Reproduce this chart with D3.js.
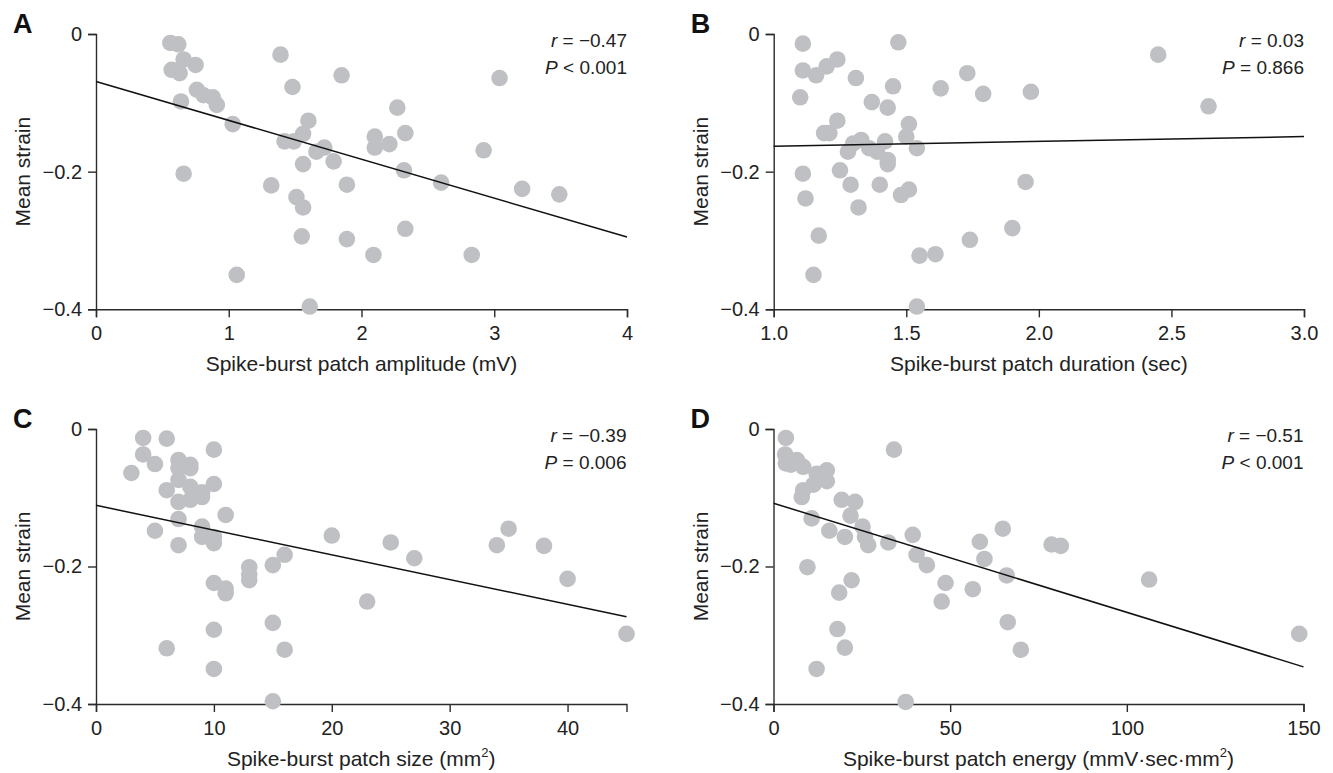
<!DOCTYPE html>
<html>
<head>
<meta charset="utf-8">
<script src="https://cdn.jsdelivr.net/npm/d3@7"></script>
<style>
  body { margin: 0; background: #fff; }
  svg { font-family: "Liberation Sans", Arial, sans-serif; }
</style>
</head>
<body>
<svg id="chart" width="1333" height="773"></svg>
<script>
// points: [x, mean strain]
const ampPoints = [
  [0.56, -0.013], [0.62, -0.015], [0.66, -0.037], [0.75, -0.045], [0.57, -0.052], [0.63, -0.057],
  [1.39, -0.030], [1.85, -0.060], [1.48, -0.077], [0.76, -0.081], [0.81, -0.089], [0.88, -0.092],
  [0.91, -0.103], [0.64, -0.098], [1.03, -0.131], [1.60, -0.126], [1.56, -0.145], [1.42, -0.156],
  [1.49, -0.156], [1.72, -0.165], [1.66, -0.171], [1.79, -0.185], [1.56, -0.189], [0.66, -0.203],
  [1.89, -0.219], [1.32, -0.220], [1.51, -0.237], [1.56, -0.252], [1.55, -0.294], [1.89, -0.298],
  [1.06, -0.350], [1.61, -0.396], [3.04, -0.064], [2.27, -0.107], [2.10, -0.149], [2.33, -0.144],
  [2.10, -0.165], [2.21, -0.160], [2.92, -0.169], [2.32, -0.198], [2.60, -0.216], [3.21, -0.225],
  [3.49, -0.233], [2.33, -0.283], [2.09, -0.321], [2.83, -0.321]
];
const durPoints = [
  [1.11, -0.014], [1.47, -0.012], [1.24, -0.037], [1.20, -0.047], [1.11, -0.053], [1.16, -0.060],
  [1.31, -0.064], [1.73, -0.057], [1.45, -0.076], [1.63, -0.079], [1.79, -0.087], [1.97, -0.084],
  [1.10, -0.092], [1.37, -0.099], [1.43, -0.107], [1.24, -0.126], [1.51, -0.131], [1.19, -0.144],
  [1.21, -0.144], [1.50, -0.149], [1.30, -0.159], [1.33, -0.154], [1.42, -0.156], [1.54, -0.166],
  [1.28, -0.171], [1.36, -0.166], [1.39, -0.171], [1.43, -0.183], [1.43, -0.189], [1.11, -0.203],
  [1.25, -0.198], [1.95, -0.215], [1.29, -0.219], [1.40, -0.219], [1.51, -0.226], [1.48, -0.234],
  [1.12, -0.239], [1.32, -0.252], [1.17, -0.293], [1.74, -0.299], [1.90, -0.282], [1.55, -0.322],
  [1.61, -0.320], [1.15, -0.350], [1.54, -0.396], [2.45, -0.030], [2.64, -0.105]
];
const sizePoints = [
  [4, -0.013], [6, -0.014], [10, -0.030], [4, -0.037], [5, -0.051], [3, -0.064], [7, -0.045],
  [8, -0.052], [7, -0.057], [8, -0.057], [7, -0.074], [10, -0.080], [6, -0.089], [8, -0.084],
  [9, -0.092], [9, -0.099], [8, -0.103], [7, -0.106], [11, -0.125], [7, -0.131], [5, -0.148],
  [9, -0.142], [9, -0.157], [10, -0.157], [10, -0.166], [7, -0.169], [20, -0.155], [16, -0.183],
  [15, -0.198], [13, -0.201], [13, -0.212], [13, -0.220], [10, -0.224], [11, -0.232], [11, -0.239],
  [23, -0.251], [15, -0.282], [10, -0.292], [6, -0.319], [16, -0.321], [10, -0.349], [15, -0.396],
  [25, -0.165], [27, -0.188], [34, -0.169], [35, -0.145], [38, -0.170], [40, -0.218], [45, -0.298]
];
const energyPoints = [
  [3.5, -0.013], [3.3, -0.037], [6.6, -0.045], [3.5, -0.050], [4.9, -0.052], [8.4, -0.055],
  [12.2, -0.065], [15.1, -0.060], [15.1, -0.076], [11.3, -0.081], [8.4, -0.089], [8.0, -0.099],
  [34.1, -0.030], [19.3, -0.103], [23.1, -0.106], [21.8, -0.126], [10.8, -0.130], [25.2, -0.142],
  [15.8, -0.148], [20.2, -0.157], [25.9, -0.157], [26.8, -0.169], [32.5, -0.165], [39.4, -0.154],
  [40.5, -0.183], [43.4, -0.198], [9.6, -0.201], [22.1, -0.220], [18.6, -0.238], [48.7, -0.224],
  [47.6, -0.251], [56.4, -0.233], [58.4, -0.164], [59.7, -0.189], [64.9, -0.145], [66.0, -0.213],
  [66.3, -0.281], [70.0, -0.321], [18.1, -0.291], [20.2, -0.318], [12.2, -0.349], [37.4, -0.397],
  [78.7, -0.168], [81.3, -0.170], [106.3, -0.219], [148.8, -0.298]
];

// regression line end points
const ampFit = [[0, -0.069], [4, -0.295]];
const durFit = [[1, -0.163], [3, -0.149]];
const sizeFit = [[0, -0.111], [45, -0.273]];
const energyFit = [[0, -0.108], [150, -0.346]];

// tick values
const yTicks = [0, -0.2, -0.4];
const ampTicks = [0, 1, 2, 3, 4];
const durTicks = [1.0, 1.5, 2.0, 2.5, 3.0];
const sizeTicks = [0, 10, 20, 30, 40];
const energyTicks = [0, 50, 100, 150];

// stats text
const ampStats = [['r', ' = \u22120.47'], ['P', ' < 0.001']];
const durStats = [['r', ' = 0.03'], ['P', ' = 0.866']];
const sizeStats = [['r', ' = \u22120.39'], ['P', ' = 0.006']];
const energyStats = [['r', ' = \u22120.51'], ['P', ' < 0.001']];

const svg = d3.select('#chart');

function drawPanel(cfg) {
  const g = svg.append('g');
  const x = d3.scaleLinear().domain(cfg.xDomain).range([cfg.left, cfg.right]);
  const y = d3.scaleLinear().domain([-0.4, 0]).range([cfg.bottom, cfg.top]);

  // axes
  const xAxis = d3.axisBottom(x)
    .tickValues(cfg.xTicks)
    .tickFormat(cfg.xFormat)
    .tickSize(8)
    .tickSizeOuter(8)
    .tickPadding(9);
  const yAxis = d3.axisLeft(y)
    .tickValues(yTicks)
    .tickFormat((d) => (d === 0 ? '0' : d3.format('.1f')(d)))
    .tickSize(8)
    .tickSizeOuter(8)
    .tickPadding(6);

  const xg = g.append('g').attr('transform', `translate(0,${cfg.bottom})`).call(xAxis);
  const yg = g.append('g').attr('transform', `translate(${cfg.left},0)`).call(yAxis);
  [xg, yg].forEach((a) => {
    a.selectAll('path, line').attr('stroke', '#2b2b2b').attr('stroke-width', 1.4);
    a.selectAll('text').attr('fill', '#222').style('font-size', '20px')
      .style('font-family', '"Liberation Sans", Arial, sans-serif');
  });

  // points
  g.selectAll('circle.pt')
    .data(cfg.points)
    .enter()
    .append('circle')
    .attr('class', 'pt')
    .attr('cx', (d) => x(d[0]))
    .attr('cy', (d) => y(d[1]))
    .attr('r', 8.3)
    .attr('fill', '#bfc0c3');

  // regression line
  g.append('line')
    .attr('x1', x(cfg.fit[0][0]))
    .attr('y1', y(cfg.fit[0][1]))
    .attr('x2', x(cfg.fit[1][0]))
    .attr('y2', y(cfg.fit[1][1]))
    .attr('stroke', '#111')
    .attr('stroke-width', 1.5);

  // stats
  cfg.stats.forEach((s, i) => {
    const t = g.append('text')
      .attr('x', cfg.right)
      .attr('y', cfg.top + 13 + i * 26.5)
      .attr('text-anchor', 'end')
      .style('font-size', '19px')
      .attr('fill', '#222');
    t.append('tspan').style('font-style', 'italic').text(s[0]);
    t.append('tspan').text(s[1]);
  });

  // panel letter
  g.append('text')
    .attr('x', cfg.left - 83)
    .attr('y', cfg.top - 1)
    .style('font-size', '27px')
    .style('font-weight', 'bold')
    .attr('fill', '#111')
    .text(cfg.letter);

  // y title
  g.append('text')
    .attr('transform', `translate(${cfg.left - 66},${(cfg.top + cfg.bottom) / 2}) rotate(-90)`)
    .attr('text-anchor', 'middle')
    .style('font-size', '21px')
    .attr('fill', '#222')
    .text('Mean strain');

  // x title
  const xt = g.append('text')
    .attr('x', (cfg.left + cfg.right) / 2)
    .attr('y', cfg.bottom + 62)
    .attr('text-anchor', 'middle')
    .style('font-size', '21px')
    .attr('fill', '#222');
  xt.append('tspan').text(cfg.xTitle);
  if (cfg.sup) {
    xt.append('tspan').attr('dy', -9).style('font-size', '13px').text('2');
    xt.append('tspan').attr('dy', 9).text(')');
  }
}

const fmtInt = (d) => d3.format('d')(d);
const fmtOne = (d) => d3.format('.1f')(d);

drawPanel({
  letter: 'A', left: 96, right: 627, top: 34, bottom: 309.3,
  xDomain: [0, 4], xTicks: ampTicks, xFormat: fmtInt,
  points: ampPoints, fit: ampFit, stats: ampStats,
  xTitle: 'Spike-burst patch amplitude (mV)'
});
drawPanel({
  letter: 'B', left: 773.7, right: 1304, top: 34, bottom: 309.3,
  xDomain: [1, 3], xTicks: durTicks, xFormat: fmtOne,
  points: durPoints, fit: durFit, stats: durStats,
  xTitle: 'Spike-burst patch duration (sec)'
});
drawPanel({
  letter: 'C', left: 96, right: 626.5, top: 429, bottom: 704,
  xDomain: [0, 45], xTicks: sizeTicks, xFormat: fmtInt,
  points: sizePoints, fit: sizeFit, stats: sizeStats,
  xTitle: 'Spike-burst patch size (mm', sup: true
});
drawPanel({
  letter: 'D', left: 773.5, right: 1303.5, top: 429, bottom: 704,
  xDomain: [0, 150], xTicks: energyTicks, xFormat: fmtInt,
  points: energyPoints, fit: energyFit, stats: energyStats,
  xTitle: 'Spike-burst patch energy (mmV\u00b7sec\u00b7mm', sup: true
});
</script>
</body>
</html>
